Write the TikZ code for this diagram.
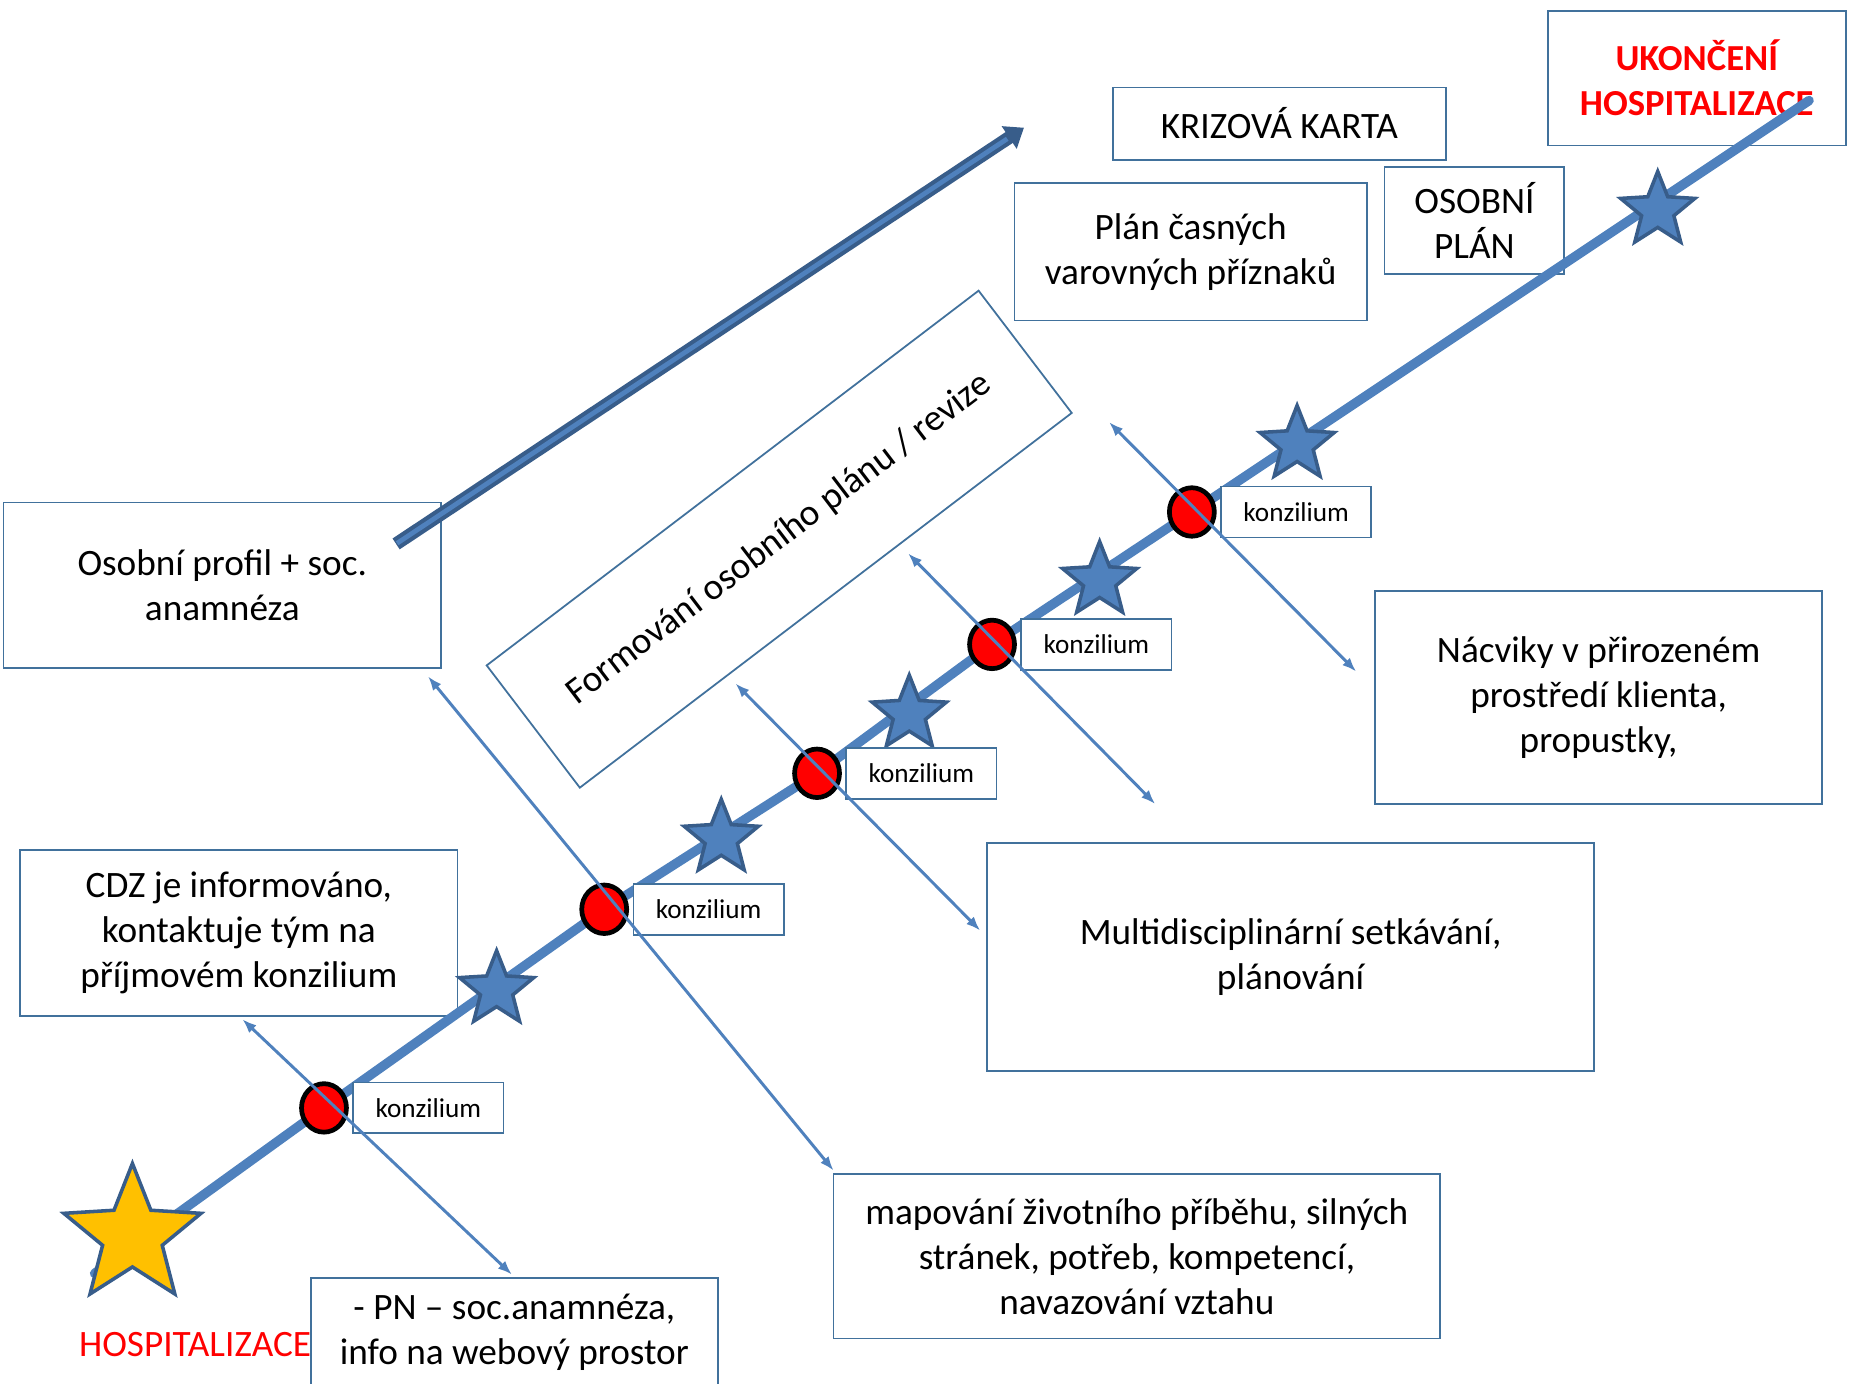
\documentclass[tikz,border=0pt]{standalone}
\usepackage{fontspec}
\setmainfont{Carlito}
\usetikzlibrary{shapes.geometric,positioning,arrows.meta}
\definecolor{boxblue}{HTML}{41719C}
\definecolor{lineblue}{HTML}{4F81BD}
\definecolor{stardark}{HTML}{385D8A}
\definecolor{staryellow}{HTML}{FFC000}
\tikzset{
  box/.style={draw=boxblue, line width=1.5pt, fill=white, align=center, inner sep=0pt, font=\fontsize{31.5}{38}\selectfont},
  konz/.style={box, minimum width=127pt, minimum height=43pt, font=\fontsize{23}{27}\selectfont},
  meeting/.style={ellipse, draw=black, line width=4pt, fill=red, minimum width=38pt, minimum height=41pt, inner sep=0pt},
  milestone/.style={star, star points=5, star point ratio=2.3, draw=stardark, line width=3pt, fill=lineblue, minimum size=66pt, inner sep=0pt},
  link/.style={<->, >={Latex[length=12pt,width=9pt]}, draw=lineblue, line width=2.5pt},
}
\begin{document}
\begin{tikzpicture}[x=1pt, y=-1pt]
  \useasboundingbox (0,0) rectangle (1568,1170);
  % boxes
  \node[box, minimum width=370pt, minimum height=140pt] (profil) at (188,495) {Osobní profil + soc.\\anamnéza};
  \node[box, minimum width=370pt, minimum height=140pt] (cdz) at (202,789) {CDZ je informováno,\\kontaktuje tým na\\příjmovém konzilium};
  \node[box, minimum width=344pt, minimum height=92pt] (pn) at (435,1127) {- PN – soc.anamnéza,\\info na webový prostor};
  \node[box, minimum width=513pt, minimum height=139pt] (mapovani) at (961.5,1062.5) {mapování životního příběhu, silných\\stránek, potřeb, kompetencí,\\navazování vztahu};
  \node[box, minimum width=513pt, minimum height=193pt] (setkavani) at (1091.5,809.5) {Multidisciplinární setkávání,\\plánování};
  \node[box, minimum width=378pt, minimum height=180pt] (nacviky) at (1352,590) {Nácviky v přirozeném\\prostředí klienta,\\propustky,};
  \node[box, minimum width=298pt, minimum height=116pt] (varovne) at (1007,213) {Plán časných\\varovných příznaků};
  \node[box, minimum width=282pt, minimum height=61pt] (krize) at (1082,104.5) {KRIZOVÁ KARTA};
  \node[box, minimum width=152pt, minimum height=91pt] (osplan) at (1247,186.5) {OSOBNÍ\\PLÁN};
  \node[box, minimum width=252pt, minimum height=114pt, text=red, font=\fontsize{31}{38}\selectfont\bfseries] (konec) at (1435,66) {UKONČENÍ\\HOSPITALIZACE};
  \node[box, rotate=37.3, minimum width=523pt, minimum height=130pt] (formovani) at (659,456) {Formování osobního plánu / revize};
  \node[text=red, font=\fontsize{31.5}{38}\selectfont] (hosp) at (165,1137) {HOSPITALIZACE};

  % big arrow
  \coordinate (tail) at (335,460);
  \coordinate (tip) at (866,108);
  \draw[-{Triangle[width=22pt,length=15pt]}, stardark, line width=11pt] (tail) -- (tip);
  \draw[lineblue, line width=4pt, shorten >=17pt, shorten <=1pt] (tail) -- (tip);

  % timeline
  \coordinate (start) at (80,1077);
  \coordinate (finish) at (1530,85);
  \foreach \x/\y [count=\i] in {274/937, 511/769, 691/654, 839/545, 1008/433}
    \coordinate (p\i) at (\x,\y);
  \draw[lineblue, line width=8pt, line cap=round] (start) -- (p1) -- (p2) -- (p3) -- (p4) -- (p5) -- (finish);

  \node[milestone, fill=staryellow, minimum size=122pt] (startstar) at (112,1045) {};
  \foreach \x/\y [count=\i] in {420/837, 610/709, 769/604, 930/491, 1097/376, 1402/178}
    \node[milestone] (star\i) at (\x,\y) {};

  \foreach \i in {1,...,5} {
    \node[meeting] (c\i) at (p\i) {};
    \node[konz, right=3pt of c\i] (k\i) {konzilium};
  }

  % arrows through the meetings
  \foreach \i/\ax/\ay/\bx/\by in {1/205/862/433/1078, 2/362/572/705/990, 3/622/578/829/787, 4/768/468/977/680, 5/938/357/1147/568} {
    \coordinate (up\i) at (\ax,\ay);
    \coordinate (down\i) at (\bx,\by);
    \draw[link] (up\i) -- (down\i);
  }
\end{tikzpicture}
\end{document}
